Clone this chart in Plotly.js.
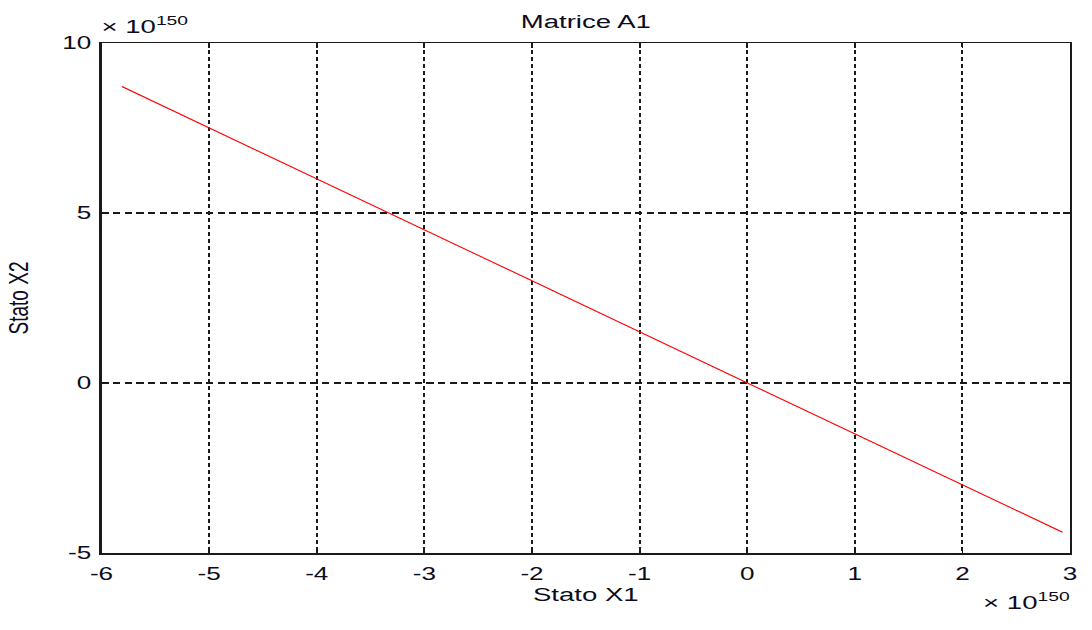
<!DOCTYPE html>
<html>
<head>
<meta charset="utf-8">
<script src="https://cdn.plot.ly/plotly-3.0.1.min.js"></script>
<style>
  html, body { margin: 0; padding: 0; background: #fff; overflow: hidden; }
  #wrap { width: 1092px; height: 630px; overflow: hidden; }
  #chart { width: 753px; height: 630px; transform: scaleX(1.45); transform-origin: 0 0; }
</style>
</head>
<body>
<div id="wrap"><div id="chart"></div></div>
<script>
// Values in units of 10^150
const exponent = 150;
const stateX1 = [-5.81, 0.0, 2.93];
const stateX2 = [8.72, 0.0, -4.39];
const xTicks = [-6, -5, -4, -3, -2, -1, 0, 1, 2, 3];
const yTicks = [-5, 0, 5, 10];
const xTickLabels = ['-6', '-5', '-4', '-3', '-2', '-1', '0', '1', '2', '3'];
const yTickLabels = ['-5', '0', '5', '10'];
const chartTitle = 'Matrice A1';
const xLabel = 'Stato X1';
const yLabel = 'Stato X2';

const font = "'Liberation Sans', Arial, sans-serif";
const ink = '#0c0c20';

const trace = {
  x: stateX1, y: stateX2, type: 'scatter', mode: 'lines',
  line: { color: '#ff0000', width: 1 }, hoverinfo: 'skip'
};

const axisCommon = {
  showline: true, mirror: 'ticks', linecolor: '#1a1a1a', linewidth: 1.5,
  ticks: 'inside', ticklen: 5, tickwidth: 1.3, tickcolor: '#1a1a1a',
  zeroline: false, showgrid: true, gridcolor: '#1a1a1a', gridwidth: 1.4,
  tickfont: { family: font, size: 18, color: ink },
  fixedrange: true
};

const layout = {
  width: 753, height: 630,
  margin: { l: 70.3, r: 15.1, t: 43, b: 77 },
  paper_bgcolor: '#fff', plot_bgcolor: '#fff',
  showlegend: false,
  title: { text: chartTitle, font: { family: font, size: 19, color: ink },
           x: 0.5, xref: 'paper', y: 1 - 21 / 630, yref: 'container', yanchor: 'middle' },
  xaxis: Object.assign({}, axisCommon, {
    range: [xTicks[0], xTicks[xTicks.length - 1]],
    tickmode: 'array', tickvals: xTicks, ticktext: xTickLabels,
    griddash: '4px,3px', ticklabelstandoff: 4,
    title: { text: xLabel, font: { family: font, size: 19, color: ink }, standoff: 4 }
  }),
  yaxis: Object.assign({}, axisCommon, {
    range: [yTicks[0], yTicks[yTicks.length - 1]],
    tickmode: 'array', tickvals: yTicks, ticktext: yTickLabels,
    griddash: '5px,3px', ticklabelstandoff: 2,
    title: { text: yLabel, font: { family: font, size: 19, color: ink }, standoff: 18 }
  }),
  annotations: [
    { text: '\u00d7 10<sup>' + exponent + '</sup>', xref: 'paper', yref: 'paper',
      x: 0, y: 1, xanchor: 'left', yanchor: 'bottom', xshift: -2, yshift: 4,
      showarrow: false, font: { family: font, size: 19, color: ink } },
    { text: '\u00d7 10<sup>' + exponent + '</sup>', xref: 'paper', yref: 'paper',
      x: 1, y: 0, xanchor: 'right', yanchor: 'top', xshift: 2, yshift: -34,
      showarrow: false, font: { family: font, size: 19, color: ink } }
  ]
};

Plotly.newPlot('chart', [trace], layout, { staticPlot: true, displayModeBar: false });
</script>
</body>
</html>
